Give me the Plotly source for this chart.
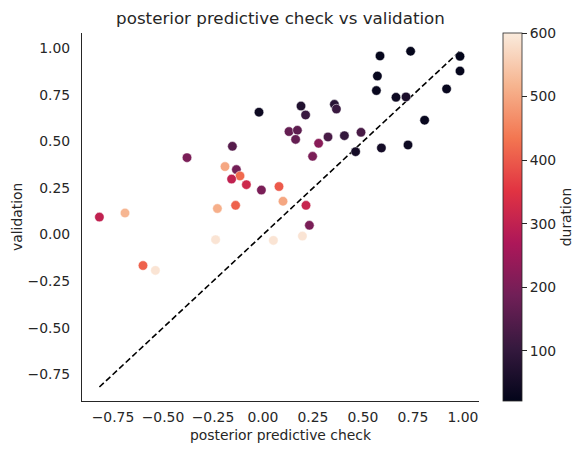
import plotly.graph_objects as go

# posterior predictive check (x), validation (y), duration (colour)
ppc = [-0.02, -0.153, -0.38, -0.19, -0.133, -0.115, -0.157, -0.083, -0.008, 0.08,
       0.10, -0.818, -0.69, -0.228, -0.137, -0.237, 0.052, -0.60, -0.538, 0.215,
       0.232, 0.197, 0.585, 0.738, 0.985, 0.985, 0.572, 0.567, 0.918, 0.665,
       0.715, 0.808, 0.19, 0.357, 0.367, 0.213, 0.13, 0.172, 0.163, 0.407,
       0.49, 0.325, 0.278, 0.248, 0.463, 0.592, 0.725]
validation = [0.657, 0.474, 0.413, 0.365, 0.349, 0.315, 0.298, 0.268, 0.239, 0.258,
              0.179, 0.094, 0.116, 0.14, 0.157, -0.027, -0.031, -0.166, -0.192, 0.157,
              0.05, -0.008, 0.959, 0.984, 0.957, 0.878, 0.851, 0.773, 0.782, 0.737,
              0.739, 0.614, 0.69, 0.699, 0.674, 0.642, 0.553, 0.56, 0.511, 0.531,
              0.549, 0.524, 0.49, 0.42, 0.445, 0.465, 0.481]
duration = [40, 150, 200, 500, 190, 420, 300, 320, 200, 400,
            500, 300, 520, 510, 410, 590, 590, 410, 590, 310,
            200, 590, 25, 25, 21, 25, 30, 30, 30, 40,
            60, 30, 70, 80, 110, 110, 170, 160, 170, 100,
            130, 130, 220, 200, 50, 50, 40]

x_ticks = [-0.75, -0.50, -0.25, 0.00, 0.25, 0.50, 0.75, 1.00]
y_ticks = [-0.75, -0.50, -0.25, 0.00, 0.25, 0.50, 0.75, 1.00]
cb_ticks = [100, 200, 300, 400, 500, 600]

rocket = [
    [0.0, "#03051A"], [0.143, "#35193E"], [0.286, "#701F57"], [0.429, "#AD1759"],
    [0.571, "#E13342"], [0.714, "#F37651"], [0.857, "#F6B48F"], [1.0, "#FAEBDD"],
]

TXT = "#262626"
FONT = "DejaVu Sans"
FS = 13.9

fig = go.Figure()

lo, hi = min(ppc), max(ppc)
fig.add_trace(go.Scatter(
    x=[lo, hi], y=[lo, hi], mode="lines",
    line=dict(color="black", width=1.6, dash="6px,3px"),
    showlegend=False, hoverinfo="skip",
))

fig.add_trace(go.Scatter(
    x=ppc, y=validation, mode="markers",
    marker=dict(
        size=9.5, color=duration, colorscale=rocket,
        cmin=min(duration), cmax=600,
        line=dict(color="white", width=0.5),
        colorbar=dict(
            title=dict(text="duration", side="right", font=dict(size=FS, color=TXT, family=FONT)),
            tickvals=cb_ticks, ticks="outside", ticklen=5, tickcolor=TXT,
            tickfont=dict(size=FS, color=TXT, family=FONT),
            thickness=19, len=1.0, lenmode="fraction",
            xpad=0, ypad=0,
            x=(503 - 82) / 397, xanchor="left", y=0.5, yanchor="middle",
            outlinecolor=TXT, outlinewidth=0.8,
        ),
    ),
    showlegend=False,
))

axis_common = dict(
    showgrid=False, zeroline=False, showline=True, linecolor=TXT, linewidth=1.2,
    ticks="", tickfont=dict(size=FS, color=TXT, family=FONT), mirror=False,
    automargin=False,
)

fig.update_layout(
    width=587, height=455,
    margin=dict(l=82, r=108, t=33, b=54, autoexpand=False),
    paper_bgcolor="white", plot_bgcolor="white",
    font=dict(family=FONT, color=TXT),
    title=dict(text="posterior predictive check vs validation",
               font=dict(size=16.7, color=TXT, family=FONT),
               x=(82 + 479) / 2 / 587, xanchor="center", y=1 - 18 / 455, yanchor="middle"),
    xaxis=dict(axis_common, range=[-0.905, 1.08], tickvals=x_ticks,
               ticktext=[f"{v:.2f}".replace("-", "\u2212") for v in x_ticks],
               ticklabelstandoff=3,
               title=dict(text="posterior predictive check", font=dict(size=FS, color=TXT, family=FONT), standoff=6)),
    yaxis=dict(axis_common, range=[-0.893, 1.082], tickvals=y_ticks,
               ticktext=[f"{v:.2f}".replace("-", "\u2212") for v in y_ticks],
               ticklabelstandoff=8),
    annotations=[dict(
        text="validation", textangle=-90, showarrow=False,
        xref="paper", yref="paper", x=(17 - 82) / 397, y=0.5,
        xanchor="center", yanchor="middle",
        font=dict(size=FS, color=TXT, family=FONT),
    )],
)

fig.write_html(
    "out.html",
    config={"displayModeBar": False},
    post_script="document.body.style.margin='0';document.body.style.overflow='hidden';",
)
